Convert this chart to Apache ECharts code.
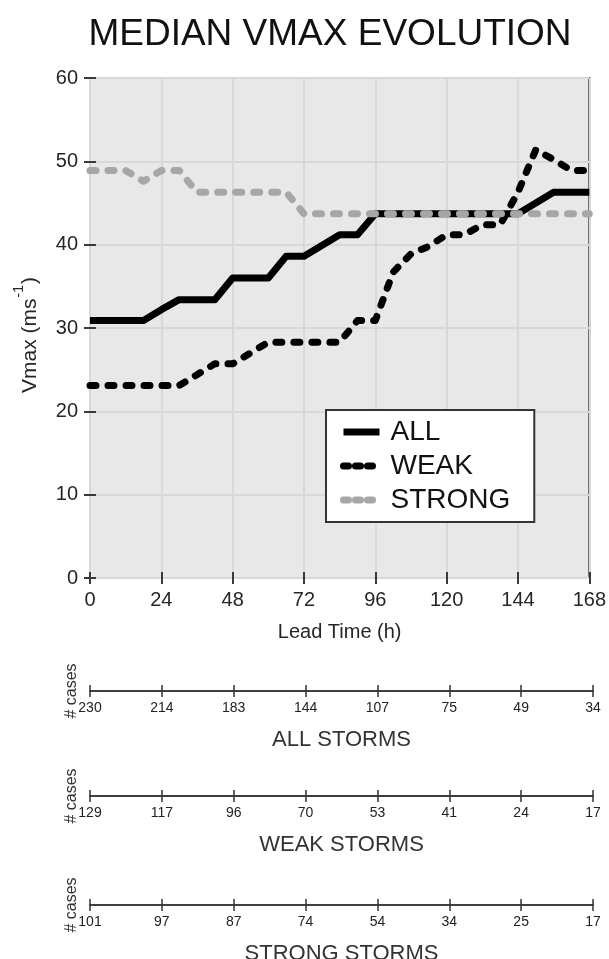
<!DOCTYPE html>
<html>
<head>
    <meta charset="utf-8" />
    <title>Median Vmax evolution</title>
    <style>
        html, body { margin: 0; padding: 0; background: #fff; }
        #main { width: 609px; height: 959px; }
    </style>
</head>
<body>
    <div id="main"></div>
    <script src="https://cdn.jsdelivr.net/npm/echarts@6/dist/echarts.min.js"></script>
    <script type="text/javascript">
        // lead time (h), every 6 h
        var hours = [0, 6, 12, 18, 24, 30, 36, 42, 48, 54, 60, 66, 72, 78, 84, 90, 96,
            102, 108, 114, 120, 126, 132, 138, 144, 150, 156, 162, 168];

        // median Vmax (m/s)
        var allVmax = [30.9, 30.9, 30.9, 30.9, 32.2, 33.4, 33.4, 33.4, 36.0, 36.0, 36.0, 38.6, 38.6, 39.9, 41.2, 41.2, 43.7,
            43.7, 43.7, 43.7, 43.7, 43.7, 43.7, 43.7, 43.7, 45.0, 46.3, 46.3, 46.3];
        var weakVmax = [23.1, 23.1, 23.1, 23.1, 23.1, 23.1, 24.4, 25.7, 25.7, 27.0, 28.3, 28.3, 28.3, 28.3, 28.3, 30.9, 30.9,
            36.7, 38.9, 39.8, 41.2, 41.2, 42.4, 42.4, 46.3, 51.4, 50.2, 48.9, 48.9];
        var strongVmax = [48.9, 48.9, 48.9, 47.6, 48.9, 48.9, 46.3, 46.3, 46.3, 46.3, 46.3, 46.3, 43.7, 43.7, 43.7, 43.7, 43.7,
            43.7, 43.7, 43.7, 43.7, 43.7, 43.7, 43.7, 43.7, 43.7, 43.7, 43.7, 43.7];

        // number of cases at 0, 24, ... 168 h
        var caseTicks = [0, 24, 48, 72, 96, 120, 144, 168];
        var allCases = [230, 214, 183, 144, 107, 75, 49, 34];
        var weakCases = [129, 117, 96, 70, 53, 41, 24, 17];
        var strongCases = [101, 97, 87, 74, 54, 34, 25, 17];

        function pairs(vals) {
            return hours.map(function (h, i) { return [h, vals[i]]; });
        }

        var txt = '#262626';
        var font = 'Liberation Sans, Helvetica, Arial, sans-serif';

        var myChart = echarts.init(document.getElementById('main'));

        // small "# cases" axes under the chart
        var caseGrids = [], caseX = [], caseY = [];
        var caseSets = [
            { top: 691, name: 'ALL STORMS', vals: allCases },
            { top: 796, name: 'WEAK STORMS', vals: weakCases },
            { top: 905, name: 'STRONG STORMS', vals: strongCases }
        ];
        caseSets.forEach(function (c, k) {
            var gi = k + 1;
            caseGrids.push({ left: 90, right: 16, top: c.top, height: 0 });
            var base = {
                type: 'value', gridIndex: gi, min: 0, max: 168, interval: 24, position: 'bottom',
                axisLine: { show: true, lineStyle: { color: '#333', width: 1.5 } },
                splitLine: { show: false }
            };
            // ticks pointing up
            caseX.push(Object.assign({}, base, {
                axisTick: { show: true, inside: true, length: 6, lineStyle: { color: '#333', width: 1.5 } },
                axisLabel: { show: false }
            }));
            // ticks pointing down, labels and name
            caseX.push(Object.assign({}, base, {
                axisTick: { show: true, inside: false, length: 6, lineStyle: { color: '#333', width: 1.5 } },
                axisLabel: {
                    show: true, margin: 10, fontSize: 14, color: '#222', fontFamily: font,
                    formatter: function (v) {
                        var i = caseTicks.indexOf(v);
                        return i >= 0 ? String(c.vals[i]) : '';
                    }
                },
                name: c.name, nameLocation: 'middle', nameGap: 38,
                nameTextStyle: { fontSize: 22, color: '#333', fontFamily: font }
            }));
            caseY.push({
                type: 'value', gridIndex: gi, min: 0, max: 1,
                axisLine: { show: false }, axisTick: { show: false },
                axisLabel: { show: false }, splitLine: { show: false },
                name: '# cases', nameLocation: 'middle', nameRotate: 90, nameGap: 10,
                nameTextStyle: { fontSize: 16, color: '#333', fontFamily: font }
            });
        });

        var dotted = [6, 12];

        var option = {
            backgroundColor: '#fff',
            animation: false,
            title: {
                text: 'MEDIAN VMAX EVOLUTION',
                left: 325, top: 11, textAlign: 'center',
                textStyle: { fontSize: 37, fontWeight: 'normal', color: '#111', fontFamily: font }
            },
            legend: {
                data: [
                    { name: 'ALL', itemStyle: { opacity: 0 }, lineStyle: { width: 7, cap: 'butt' } },
                    { name: 'WEAK', itemStyle: { opacity: 0 }, lineStyle: { width: 7, cap: 'round', type: [5, 7] } },
                    { name: 'STRONG', itemStyle: { opacity: 0 }, lineStyle: { width: 7, cap: 'round', type: [5, 7] } }
                ],
                orient: 'vertical',
                left: 326, top: 410,
                padding: [8, 24, 8, 14],
                itemWidth: 36, itemHeight: 14, itemGap: 6,
                backgroundColor: '#fff',
                borderColor: '#333', borderWidth: 2,
                textStyle: { fontSize: 28, color: '#111', fontFamily: font, padding: [0, 0, 0, 6] }
            },
            grid: [{
                left: 90, right: 16, top: 78, height: 500,
                show: true, backgroundColor: '#e8e8e8',
                borderColor: '#3a3a3a', borderWidth: 2
            }].concat(caseGrids),
            xAxis: [{
                type: 'value', gridIndex: 0, min: 0, max: 168, interval: 24, position: 'bottom',
                axisLine: { show: false },
                axisTick: { show: true, inside: true, length: 6, lineStyle: { color: '#3a3a3a', width: 2 } },
                axisLabel: { fontSize: 20, color: txt, margin: 12, fontFamily: font },
                splitLine: { show: true, lineStyle: { color: '#d8d8d8', width: 2 } },
                name: 'Lead Time (h)', nameLocation: 'middle', nameGap: 44,
                nameTextStyle: { fontSize: 20, color: txt, fontFamily: font }
            }, {
                type: 'value', gridIndex: 0, min: 0, max: 168, interval: 24, position: 'top',
                axisLine: { show: false },
                axisTick: { show: true, inside: true, length: 6, lineStyle: { color: '#3a3a3a', width: 2 } },
                axisLabel: { show: false }, splitLine: { show: false }
            }].concat(caseX),
            yAxis: [{
                type: 'value', gridIndex: 0, min: 0, max: 60, interval: 10, position: 'left',
                axisLine: { show: false },
                axisTick: { show: true, inside: true, length: 6, lineStyle: { color: '#3a3a3a', width: 2 } },
                axisLabel: { fontSize: 20, color: txt, margin: 12, fontFamily: font },
                splitLine: { show: true, lineStyle: { color: '#d8d8d8', width: 2 } },
                name: '{a|Vmax (ms}{b|-1}{a|)}', nameLocation: 'middle', nameRotate: 90, nameGap: 42,
                nameTextStyle: {
                    padding: [0, 14, 0, 0],
                    rich: {
                        a: { fontSize: 21, color: txt, fontFamily: font },
                        b: { fontSize: 14, color: txt, fontFamily: font, padding: [0, 1, 22, 1] }
                    }
                }
            }, {
                type: 'value', gridIndex: 0, min: 0, max: 60, interval: 10, position: 'right',
                axisLine: { show: false },
                axisTick: { show: true, inside: true, length: 6, lineStyle: { color: '#3a3a3a', width: 2 } },
                axisLabel: { show: false }, splitLine: { show: false }
            }].concat(caseY),
            series: [{
                name: 'ALL', type: 'line', xAxisIndex: 0, yAxisIndex: 0,
                data: pairs(allVmax), symbol: 'none',
                itemStyle: { color: '#000' },
                lineStyle: { color: '#000', width: 7, join: 'round' }
            }, {
                name: 'WEAK', type: 'line', xAxisIndex: 0, yAxisIndex: 0,
                data: pairs(weakVmax), symbol: 'none',
                itemStyle: { color: '#000' },
                lineStyle: { color: '#000', width: 7, type: dotted, cap: 'round', join: 'round' }
            }, {
                name: 'STRONG', type: 'line', xAxisIndex: 0, yAxisIndex: 0,
                data: pairs(strongVmax), symbol: 'none',
                itemStyle: { color: '#a6a6a6' },
                lineStyle: { color: '#a6a6a6', width: 7, type: dotted, cap: 'round', join: 'round' }
            }]
        };
        myChart.setOption(option);
    </script>
</body>
</html>
